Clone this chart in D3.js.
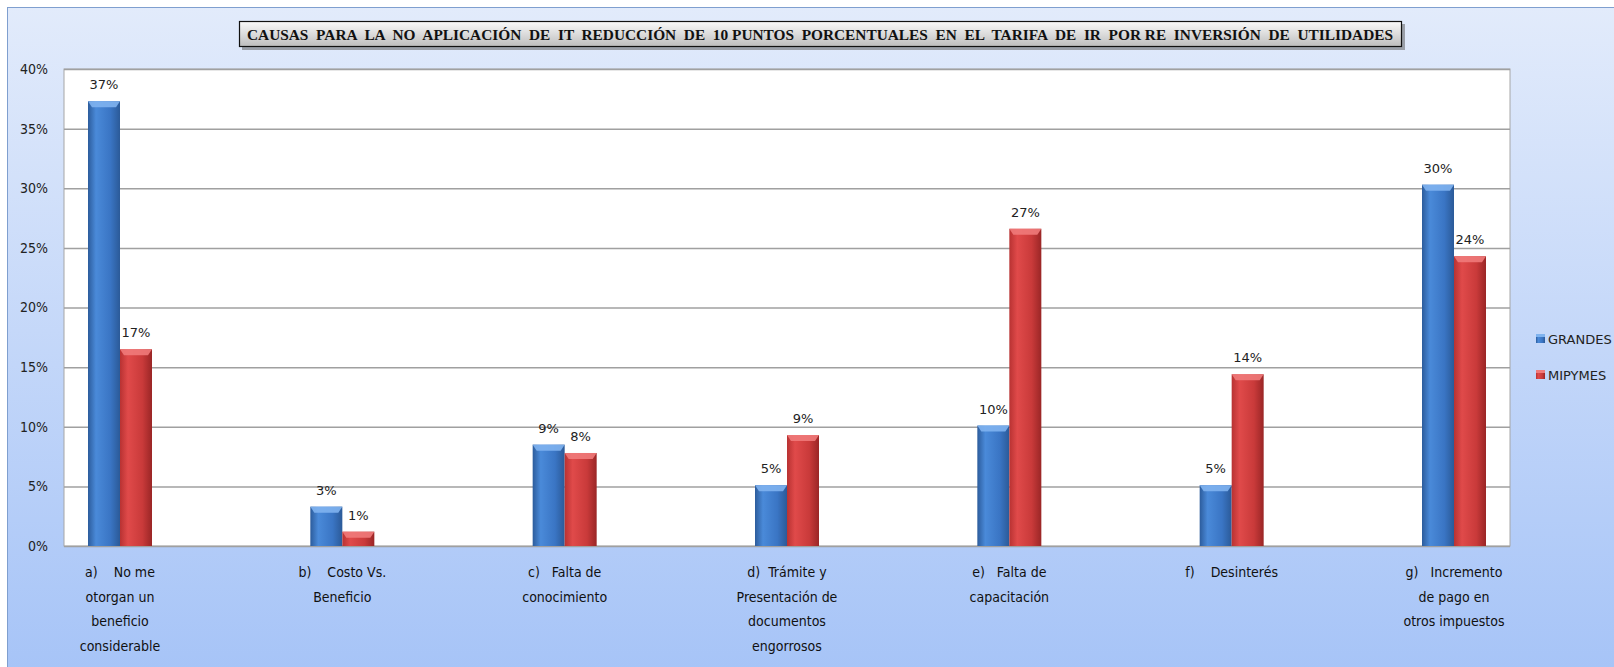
<!DOCTYPE html>
<html>
<head>
<meta charset="utf-8">
<script src="https://cdn.jsdelivr.net/npm/d3@7"></script>
<style>
  html, body { margin: 0; padding: 0; background: #fff; }
  svg { display: block; }
</style>
</head>
<body>
<svg id="chart" width="1614" height="667"></svg>
<script>
// data (percent)
let categories = ['a', 'b', 'c', 'd', 'e', 'f', 'g']
let categoryLabels = [
  ['a)    No me', 'otorgan un', 'beneficio', 'considerable'],
  ['b)    Costo Vs.', 'Beneficio'],
  ['c)   Falta de', 'conocimiento'],
  ['d)  Trámite y', 'Presentación de', 'documentos', 'engorrosos'],
  ['e)   Falta de', 'capacitación'],
  ['f)    Desinterés'],
  ['g)   Incremento', 'de pago en', 'otros impuestos']
]
let seriesNames = ['GRANDES', 'MIPYMES']
let grandes = [37.3, 3.3, 8.5, 5.1, 10.1, 5.1, 30.3]
let mipymes = [16.5, 1.2, 7.8, 9.3, 26.6, 14.4, 24.3]
let yTicks = [0, 5, 10, 15, 20, 25, 30, 35, 40]
let title = 'CAUSAS  PARA  LA  NO  APLICACIÓN  DE  IT  REDUCCIÓN  DE  10 PUNTOS  PORCENTUALES  EN  EL  TARIFA  DE  IR  POR RE  INVERSIÓN  DE  UTILIDADES'

let svg = d3.select('#chart')
let defs = svg.append('defs')

// background gradient
let bg = defs.append('linearGradient').attr('id', 'bg').attr('x1', 0).attr('y1', 0).attr('x2', 0).attr('y2', 1)
bg.append('stop').attr('offset', '0%').attr('stop-color', '#e2ebfb')
bg.append('stop').attr('offset', '100%').attr('stop-color', '#a5c3f7')

let tg = defs.append('linearGradient').attr('id', 'titlebg').attr('x1', 0).attr('y1', 0).attr('x2', 0).attr('y2', 1)
tg.append('stop').attr('offset', '0%').attr('stop-color', '#fafafa')
tg.append('stop').attr('offset', '100%').attr('stop-color', '#bdbdbd')

let colors = {
  GRANDES: ['#2c5c9c', '#4a8ad9', '#3a75c4', '#2b5a98'],
  MIPYMES: ['#b83232', '#e04a4a', '#c93a3a', '#9a2626']
}
seriesNames.forEach((s) => {
  let g = defs.append('linearGradient').attr('id', 'grad-' + s).attr('x1', 0).attr('x2', 1).attr('y1', 0).attr('y2', 0)
  g.append('stop').attr('offset', '0%').attr('stop-color', colors[s][0])
  g.append('stop').attr('offset', '25%').attr('stop-color', colors[s][1])
  g.append('stop').attr('offset', '70%').attr('stop-color', colors[s][2])
  g.append('stop').attr('offset', '100%').attr('stop-color', colors[s][3])
})

svg.append('rect').attr('x', 7.5).attr('y', 7.5).attr('width', 1620).attr('height', 680)
  .attr('fill', 'url(#bg)').attr('stroke', '#7f9fcf').attr('stroke-width', 1)

let plot = {left: 64, right: 1510, top: 69, bottom: 546}

let y = d3.scaleLinear().domain([0, 40]).range([plot.bottom, plot.top])
let x = d3.scalePoint().domain(categories).range([120, 1454])
let xs = d3.scaleBand().domain(seriesNames).range([-32, 32])

svg.append('rect')
  .attr('x', plot.left).attr('y', plot.top)
  .attr('width', plot.right - plot.left).attr('height', plot.bottom - plot.top)
  .attr('fill', '#ffffff').attr('stroke', '#a6a6a6')

// gridlines + y labels
let yAxis = svg.append('g').attr('transform', 'translate(' + plot.left + ',0)')
  .call(d3.axisLeft(y).tickValues(yTicks).tickSize(-(plot.right - plot.left)).tickPadding(16).tickFormat((d) => d + '%'))
yAxis.select('.domain').remove()
yAxis.selectAll('.tick line').attr('stroke', '#a0a0a0').attr('stroke-width', 1.5)
yAxis.selectAll('.tick text')
  .attr('font-family', '"Liberation Sans Narrow", "DejaVu Sans Condensed", sans-serif')
  .attr('font-size', 14).attr('fill', '#222')

let rows = []
categories.forEach((c, i) => {
  rows.push({cat: c, s: 'GRANDES', v: grandes[i]})
  rows.push({cat: c, s: 'MIPYMES', v: mipymes[i]})
})

let bars = svg.append('g').selectAll('g').data(rows).enter().append('g')
let bw = xs.bandwidth()
bars.append('rect')
  .attr('x', (d) => x(d.cat) + xs(d.s))
  .attr('y', (d) => y(d.v))
  .attr('width', bw)
  .attr('height', (d) => y(0) - y(d.v))
  .attr('fill', (d) => 'url(#grad-' + d.s + ')')
// top bevel
bars.append('path')
  .attr('d', (d) => {
    let x0 = x(d.cat) + xs(d.s), t = y(d.v)
    let h = Math.min(6, y(0) - t)
    return 'M' + x0 + ',' + t + 'L' + (x0 + bw) + ',' + t + 'L' + (x0 + bw - 4) + ',' + (t + h) + 'L' + (x0 + 4) + ',' + (t + h) + 'Z'
  })
  .attr('fill', (d) => d.s === 'GRANDES' ? '#7fb3ef' : '#f07a7a')
  .attr('opacity', 0.9)

bars.append('text')
  .attr('x', (d) => x(d.cat) + xs(d.s) + bw / 2)
  .attr('y', (d) => y(d.v) - 12)
  .attr('text-anchor', 'middle')
  .attr('font-family', '"DejaVu Sans", sans-serif')
  .attr('font-size', 13).attr('fill', '#222')
  .text((d) => Math.round(d.v) + '%')

// category labels
let cl = svg.append('g').selectAll('text').data(categories).enter().append('text')
  .attr('text-anchor', 'middle')
  .attr('font-family', '"Liberation Sans Narrow", "DejaVu Sans Condensed", sans-serif')
  .attr('font-size', 14).attr('fill', '#111')
  .style('white-space', 'pre')
cl.each(function (c, i) {
  let t = d3.select(this)
  categoryLabels[i].forEach((line, j) => {
    t.append('tspan').attr('x', x(c)).attr('y', 577 + j * 24.5).text(line)
  })
})

// title box
let tb = svg.append('g')
tb.append('rect').attr('x', 242).attr('y', 24).attr('width', 1163).attr('height', 26).attr('fill', '#555').attr('opacity', 0.5)
tb.append('rect').attr('x', 239.5).attr('y', 21.5).attr('width', 1162).attr('height', 25)
  .attr('fill', 'url(#titlebg)').attr('stroke', '#111').attr('stroke-width', 1.2)
tb.append('text').attr('x', 247).attr('y', 39.5)
  .attr('font-family', '"Liberation Serif", "DejaVu Serif", serif')
  .attr('font-weight', 'bold').attr('font-size', 14.5).attr('fill', '#111')
  .attr('textLength', 1146).attr('lengthAdjust', 'spacingAndGlyphs')
  .style('white-space', 'pre')
  .text(title)

// legend
let lg = svg.append('g').selectAll('g').data(seriesNames).enter().append('g')
  .attr('transform', (d, i) => 'translate(1536,' + (334 + i * 36) + ')')
lg.append('rect').attr('width', 9).attr('height', 9).attr('fill', (d) => 'url(#grad-' + d + ')')
lg.append('rect').attr('width', 9).attr('height', 3).attr('fill', (d) => d === 'GRANDES' ? '#7fb3ef' : '#f07a7a')
lg.append('text').attr('x', 12).attr('y', 9.5)
  .attr('font-family', '"DejaVu Sans", sans-serif').attr('font-size', 13).attr('fill', '#222')
  .text((d) => d)
</script>
</body>
</html>
